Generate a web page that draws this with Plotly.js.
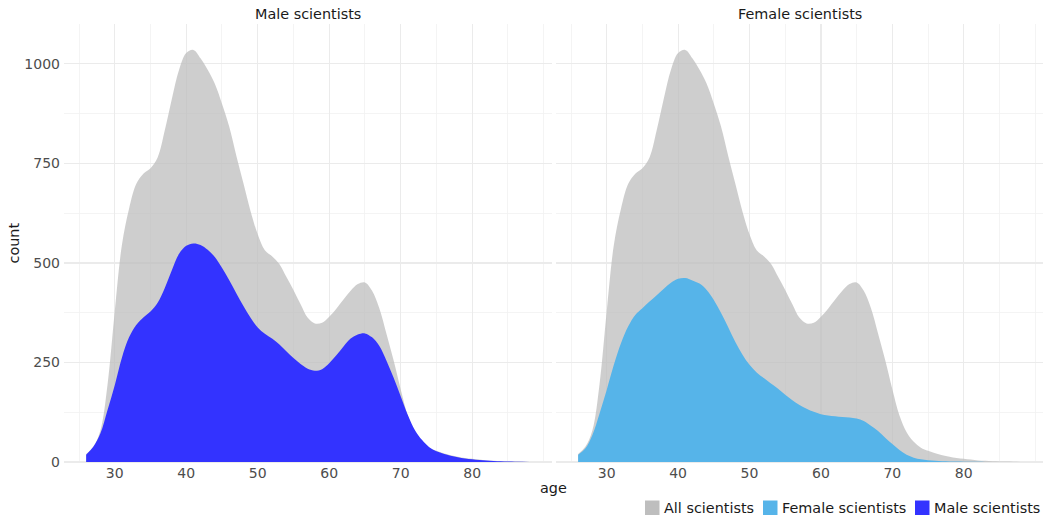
<!DOCTYPE html>
<html>
<head>
<meta charset="utf-8">
<script src="https://cdn.plot.ly/plotly-3.0.1.min.js"></script>
<style>html,body{margin:0;padding:0;background:#fff;}#chart{width:1048px;height:518px;}</style>
</head>
<body>
<div id="chart"></div>
<script>
// ---- data ----
const ages = [26,27,28,29,30,31,32,33,34,35,36,37,38,39,40,41,42,43,44,45,46,47,48,49,50,51,52,53,54,55,56,57,58,59,60,61,62,63,64,65,66,67,68,69,70,71,72,73,74,75,76,77,78,79,80,81,82,83,84,85,86,87,88];
const allScientists = [20,38,80,196,378,545,636,698,724,738,765,833,913,985,1027,1035,1014,985,950,900,843,770,700,630,572,532,517,498,465,432,396,362,348,350,365,385,408,430,447,451,430,387,323,256,183,117,75,51,36,28,22,17,13,10,8,6,4,3,2,1.5,1,0.6,0.3];
const maleScientists = [18,38,72,131,193,262,313,344,363,378,400,437,482,523,543,549,545,533,515,488,457,424,392,362,338,322,310,296,278,261,246,234,229,233,248,268,290,310,320,323,313,292,255,212,165,118,80,55,37,27,21,16,12,9,7,5,3.5,2.5,1.8,1.2,0.8,0.5,0.3];
const femaleScientists = [18,34,68,122,181,244,298,340,369,386,403,419,435,450,460,462,456,448,432,407,375,339,302,270,244,225,211,197,184,169,155,143,134,126,120,117,115,113,112,109,103,91,78,61,45,30,18,11,7,4.5,3,2,1.5,1,0.7,0.5,0.4,0.3,0.2,0.2,0.1,0.1,0.1];
const panelTitles = ["Male scientists", "Female scientists"];
const legendLabels = ["All scientists", "Female scientists", "Male scientists"];
const xTicks = [30,40,50,60,70,80];
const yTicks = [0,250,500,750,1000];

// ---- styles ----
const greyFill = "rgba(190,190,190,0.75)";
const colors = {all: "#bebebe", female: "#56B4E9", male: "#3333FF"};
const FONT = "DejaVu Sans, Liberation Sans, sans-serif";
const W = 1048, H = 518;
const px = v => v / W, py = v => 1 - v / H;

function area(x, y, color, xa, ya, name) {
  return {type: "scatter", mode: "lines", x: x, y: y, name: name,
    xaxis: xa, yaxis: ya, fill: "tozeroy", fillcolor: color,
    line: {width: 0, shape: "spline", smoothing: 1}, showlegend: false, hoverinfo: "x+y+name"};
}

const traces = [
  area(ages, allScientists, greyFill, "x", "y", legendLabels[0]),
  area(ages, maleScientists, colors.male, "x", "y", legendLabels[2]),
  area(ages, allScientists, greyFill, "x2", "y2", legendLabels[0]),
  area(ages, femaleScientists, colors.female, "x2", "y2", legendLabels[1])
];

function xAxis(domain, anchor) {
  return {domain: domain, anchor: anchor, range: [22.9, 91.1], tickvals: xTicks,
    showline: false, zeroline: false, ticks: "", showgrid: true,
    gridcolor: "#ebebeb", gridwidth: 1.2,
    minor: {dtick: 5, tick0: 0, showgrid: true, gridcolor: "#f1f1f1", gridwidth: 0.8},
    tickfont: {family: FONT, size: 14, color: "#4d4d4d"}, fixedrange: true};
}
function yAxis(anchor, labels) {
  return {domain: [py(463.2), py(24)], anchor: anchor, range: [-3, 1100], tickvals: yTicks,
    showticklabels: labels, showline: false, zeroline: false, ticks: "",
    gridcolor: "#ebebeb", gridwidth: 1.2,
    minor: {dtick: 125, tick0: 0, showgrid: true, gridcolor: "#f1f1f1", gridwidth: 0.8},
    tickfont: {family: FONT, size: 14, color: "#4d4d4d"}, ticklabelstandoff: 3, fixedrange: true};
}

const legendX = [645, 763, 915];
const legendColors = [colors.all, colors.female, colors.male];
const shapes = legendX.map((x0, i) => ({type: "rect", xref: "paper", yref: "paper",
  x0: px(x0), x1: px(x0 + 14.5), y0: py(515), y1: py(500.5),
  fillcolor: legendColors[i], line: {width: 0}}));

const txtFont = {family: FONT, size: 14.4, color: "#1a1a1a"};
const annotations = [
  {text: panelTitles[0], x: px(307.5), y: py(14), xref: "paper", yref: "paper", showarrow: false, xanchor: "center", yanchor: "middle", font: txtFont},
  {text: panelTitles[1], x: px(799.5), y: py(14), xref: "paper", yref: "paper", showarrow: false, xanchor: "center", yanchor: "middle", font: txtFont},
  {text: "age", x: px(553.5), y: py(488), xref: "paper", yref: "paper", showarrow: false, xanchor: "center", yanchor: "middle", font: txtFont},
  {text: "count", x: px(13.5), y: py(243), xref: "paper", yref: "paper", showarrow: false, textangle: -90, xanchor: "center", yanchor: "middle", font: txtFont}
].concat(legendLabels.map((t, i) => ({text: t, x: px(legendX[i] + 17), y: py(508),
  xref: "paper", yref: "paper", showarrow: false, xanchor: "left", yanchor: "middle", font: txtFont})));

const layout = {
  width: W, height: H, margin: {l: 0, r: 0, t: 0, b: 0},
  paper_bgcolor: "#fff", plot_bgcolor: "rgba(0,0,0,0)",
  showlegend: false,
  xaxis: xAxis([px(64), px(551.5)], "y"),
  yaxis: yAxis("x", true),
  xaxis2: xAxis([px(556), px(1043)], "y2"),
  yaxis2: yAxis("x2", false),
  shapes: shapes, annotations: annotations,
  font: {family: FONT}
};

Plotly.newPlot("chart", traces, layout, {displayModeBar: false, staticPlot: true});
</script>
</body>
</html>
